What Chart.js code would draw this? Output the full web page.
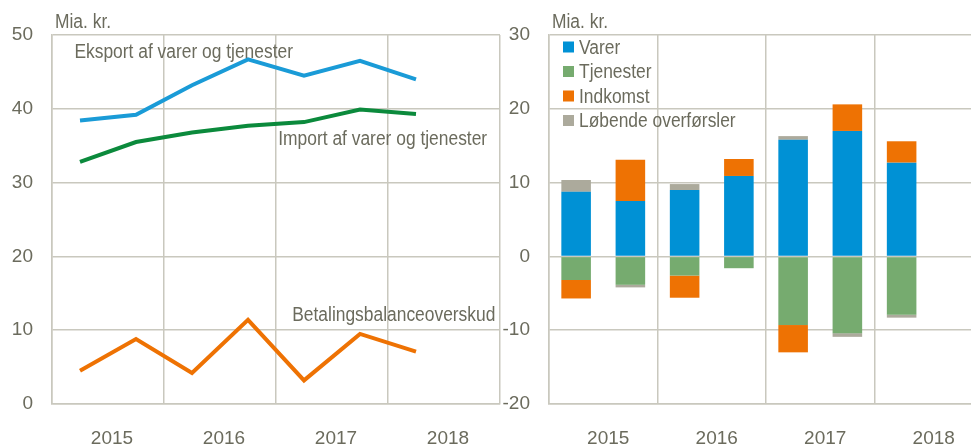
<!DOCTYPE html>
<html>
<head>
<meta charset="utf-8">
<script src="https://cdn.jsdelivr.net/npm/chart.js@4/dist/chart.umd.min.js"></script>
<style>
  html, body { margin: 0; padding: 0; background: #fff; overflow: hidden; width: 971px; height: 445px; }
  canvas { position: absolute; top: 0; }
  #left { left: 0; }
  #right { left: 497px; }
</style>
</head>
<body>
<canvas id="left" width="503" height="460"></canvas>
<canvas id="right" width="500" height="460"></canvas>
<script>
// half-year data, 2015 H1 .. 2018 H1
const years = ['2015', '2016', '2017', '2018'];
const eksport = [38.4, 39.2, 43.2, 46.7, 44.5, 46.5, 44.0];
const importData = [32.8, 35.5, 36.8, 37.7, 38.2, 39.9, 39.3];
const overskud = [4.5, 8.8, 4.2, 11.4, 3.2, 9.5, 7.1];

const varer = [8.75, 7.5, 9.0, 10.9, 15.8, 17.0, 12.7];
const tjenester = [-3.2, -3.85, -2.6, -1.6, -9.3, -10.4, -7.9];
const indkomst = [-2.5, 5.6, -3.0, 2.3, -3.7, 3.6, 2.9];
const overfoersler = [1.6, -0.35, 0.8, 0, 0.5, -0.5, -0.4];

const FONT = '"Liberation Sans", Arial, sans-serif';
const textColor = '#6b6b5d';
const gridColor = '#c9c8be';
const SQUEEZE = 0.87; // the original text is set in a narrow face

Chart.defaults.font.family = FONT;
Chart.defaults.font.size = 19;
Chart.defaults.color = textColor;
Chart.defaults.animation = false;

const toPoints = arr => arr.map((v, i) => ({ x: i + 0.5, y: v }));

function narrowText(ctx, text, x, y) {
    ctx.save();
    ctx.translate(x, y);
    ctx.scale(SQUEEZE, 1);
    ctx.fillText(text, 0, 0);
    ctx.restore();
}

// free text labels placed in data coordinates
const textLabels = {
    id: 'textLabels',
    afterDraw(chart, args, opts) {
        const ctx = chart.ctx;
        const xs = chart.scales.x, ys = chart.scales.y;
        ctx.save();
        ctx.font = '20px ' + FONT;
        ctx.fillStyle = textColor;
        ctx.textBaseline = 'alphabetic';
        (opts.items || []).forEach(item => {
            narrowText(ctx, item.text, xs.getPixelForValue(item.x), ys.getPixelForValue(item.y));
        });
        // unit above axis
        narrowText(ctx, 'Mia. kr.', chart.chartArea.left + 3, chart.chartArea.top - 7);
        ctx.restore();
    }
};

// legend inside the plot area, one row per dataset
const innerLegend = {
    id: 'innerLegend',
    afterDraw(chart) {
        if (!chart.options.plugins.innerLegend) return;
        const ctx = chart.ctx;
        const a = chart.chartArea;
        ctx.save();
        ctx.font = '20px ' + FONT;
        ctx.textBaseline = 'middle';
        chart.data.datasets.forEach((ds, i) => {
            const cy = a.top + 12 + i * 24.5;
            ctx.fillStyle = ds.backgroundColor;
            ctx.fillRect(a.left + 14, cy - 5.5, 11, 11);
            ctx.fillStyle = textColor;
            narrowText(ctx, ds.label, a.left + 30, cy + 1);
        });
        ctx.restore();
    }
};

function xAxis(labelOffset) {
    return {
        type: 'linear',
        min: 0,
        max: 8,
        offset: false,
        afterFit: s => {
            s.height = 56;
            s.paddingLeft = 0;
            s.paddingRight = 0;
        },
        border: { color: gridColor, width: 1.5 },
        grid: {
            offset: false,
            drawTicks: false,
            color: c => (c.tick && c.tick.value % 2 === 0) ? gridColor : 'rgba(0,0,0,0)',
            lineWidth: 1.5
        },
        ticks: {
            stepSize: 1,
            autoSkip: false,
            maxRotation: 0,
            padding: 23,
            labelOffset: labelOffset,
            callback: v => (v % 2 === 1) ? years[(v - 1) / 2] : ''
        }
    };
}

function yAxis(min, max) {
    return {
        min: min,
        max: max,
        afterFit: s => { s.width = 52; },
        border: { color: gridColor, width: 1.5 },
        grid: { drawTicks: false, color: gridColor, lineWidth: 1.5 },
        ticks: { stepSize: 10, padding: 19 }
    };
}

new Chart(document.getElementById('left'), {
    type: 'line',
    data: {
        datasets: [
            { label: 'Eksport af varer og tjenester', data: toPoints(eksport), borderColor: '#1a9bd7' },
            { label: 'Import af varer og tjenester', data: toPoints(importData), borderColor: '#0b8a3c' },
            { label: 'Betalingsbalanceoverskud', data: toPoints(overskud), borderColor: '#ee7203' }
        ]
    },
    options: {
        responsive: false,
        layout: { padding: { top: 35, right: 3, left: 0, bottom: 0 } },
        elements: {
            line: { borderWidth: 4, tension: 0 },
            point: { radius: 0 }
        },
        scales: { x: xAxis(4), y: yAxis(0, 50) },
        plugins: {
            legend: { display: false },
            tooltip: { enabled: false },
            textLabels: {
                items: [
                    { text: 'Eksport af varer og tjenester', x: 0.4, y: 46.9 },
                    { text: 'Import af varer og tjenester', x: 4.04, y: 35.1 },
                    { text: 'Betalingsbalanceoverskud', x: 4.29, y: 11.3 }
                ]
            }
        }
    },
    plugins: [textLabels]
});

const rightX = xAxis(5);
rightX.stacked = true;
const rightY = yAxis(-20, 30);
rightY.stacked = true;

new Chart(document.getElementById('right'), {
    type: 'bar',
    data: {
        datasets: [
            { label: 'Varer', data: toPoints(varer), backgroundColor: '#0091d5' },
            { label: 'Tjenester', data: toPoints(tjenester), backgroundColor: '#76ab6f' },
            { label: 'Indkomst', data: toPoints(indkomst), backgroundColor: '#ee7203' },
            { label: 'Løbende overførsler', data: toPoints(overfoersler), backgroundColor: '#acaa9c' }
        ]
    },
    options: {
        responsive: false,
        layout: { padding: { top: 35, right: 14, left: 0, bottom: 0 } },
        datasets: { bar: { barPercentage: 0.545, categoryPercentage: 1 } },
        scales: { x: rightX, y: rightY },
        plugins: {
            legend: { display: false },
            tooltip: { enabled: false },
            innerLegend: {},
            textLabels: { items: [] }
        }
    },
    plugins: [textLabels, innerLegend]
});
</script>
</body>
</html>
